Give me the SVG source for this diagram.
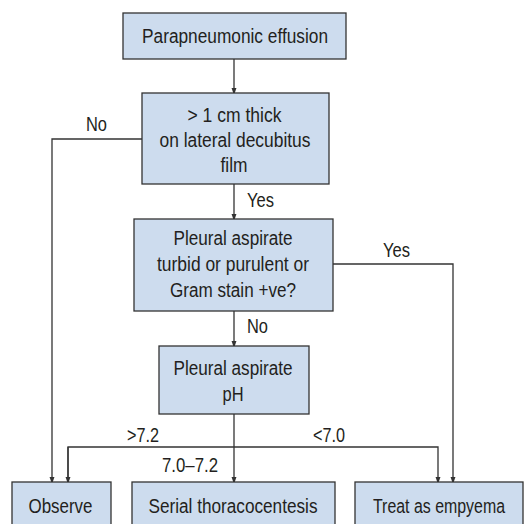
<svg xmlns="http://www.w3.org/2000/svg" width="526" height="524" viewBox="0 0 526 524">
<style>
.box{fill:#cddcee;stroke:#333;stroke-width:1.3}
.t{font-family:"Liberation Sans",Arial,sans-serif;font-size:19.5px;fill:#231f20;text-anchor:middle}
.l{font-family:"Liberation Sans",Arial,sans-serif;font-size:19.5px;fill:#231f20}
.c{fill:none;stroke:#333;stroke-width:1.3}
</style>
<defs>
<marker id="ah" markerWidth="7" markerHeight="10" refX="7" refY="3.5" orient="auto" markerUnits="userSpaceOnUse" viewBox="0 0 10 7">
<path d="M0,0 L10,3.5 L0,7 Z" fill="#333"/>
</marker>
</defs>
<rect width="526" height="524" fill="#fff"/>
<g id="connectors">
<line class="c" x1="234" y1="59" x2="234" y2="93" marker-end="url(#ah)"/>
<line class="c" x1="234" y1="184" x2="234" y2="219" marker-end="url(#ah)"/>
<line class="c" x1="234" y1="311" x2="234" y2="346" marker-end="url(#ah)"/>
<polyline class="c" points="142,139 52,139 52,482" marker-end="url(#ah)"/>
<polyline class="c" points="333,264 453,264 453,482" marker-end="url(#ah)"/>
<line class="c" x1="234" y1="414" x2="234" y2="482" marker-end="url(#ah)"/>
<polyline class="c" points="68,482 68,447 438,447 438,482" marker-end="url(#ah)"/>
<line class="c" x1="68" y1="447" x2="68" y2="482" marker-end="url(#ah)"/>
<text class="l" x="86" y="131" textLength="21" lengthAdjust="spacingAndGlyphs">No</text>
<text class="l" x="247" y="207" textLength="27" lengthAdjust="spacingAndGlyphs">Yes</text>
<text class="l" x="383" y="257" textLength="27" lengthAdjust="spacingAndGlyphs">Yes</text>
<text class="l" x="247" y="333" textLength="21" lengthAdjust="spacingAndGlyphs">No</text>
<text class="l" x="127" y="442" textLength="32" lengthAdjust="spacingAndGlyphs">&gt;7.2</text>
<text class="l" x="313" y="442" textLength="32" lengthAdjust="spacingAndGlyphs">&lt;7.0</text>
<text class="l" x="162" y="472" textLength="56" lengthAdjust="spacingAndGlyphs">7.0–7.2</text>
</g>
<g id="n1"><rect class="box" x="123" y="13" width="223" height="46"/><text class="t" x="235" y="43" textLength="186" lengthAdjust="spacingAndGlyphs">Parapneumonic effusion</text></g>
<g id="n2"><rect class="box" x="142" y="93" width="187" height="91"/><text class="t" x="234.5" y="122" textLength="94" lengthAdjust="spacingAndGlyphs">&gt; 1 cm thick</text><text class="t" x="235" y="147" textLength="151" lengthAdjust="spacingAndGlyphs">on lateral decubitus</text><text class="t" x="234" y="172" textLength="27" lengthAdjust="spacingAndGlyphs">film</text></g>
<g id="n3"><rect class="box" x="134" y="219" width="199" height="92"/><text class="t" x="233" y="245" textLength="119" lengthAdjust="spacingAndGlyphs">Pleural aspirate</text><text class="t" x="233" y="271" textLength="152" lengthAdjust="spacingAndGlyphs">turbid or purulent or</text><text class="t" x="233" y="297" textLength="126" lengthAdjust="spacingAndGlyphs">Gram stain +ve?</text></g>
<g id="n4"><rect class="box" x="159" y="346" width="150" height="68"/><text class="t" x="233" y="375" textLength="119" lengthAdjust="spacingAndGlyphs">Pleural aspirate</text><text class="t" x="233" y="401" textLength="21" lengthAdjust="spacingAndGlyphs">pH</text></g>
<g id="n5"><rect class="box" x="12" y="482" width="99" height="50"/><text class="t" x="60.5" y="513" textLength="64" lengthAdjust="spacingAndGlyphs">Observe</text></g>
<g id="n6"><rect class="box" x="132" y="482" width="203" height="50"/><text class="t" x="233" y="513" textLength="169" lengthAdjust="spacingAndGlyphs">Serial thoracocentesis</text></g>
<g id="n7"><rect class="box" x="355" y="482" width="168" height="50"/><text class="t" x="439" y="513" textLength="132" lengthAdjust="spacingAndGlyphs">Treat as empyema</text></g>
</svg>
